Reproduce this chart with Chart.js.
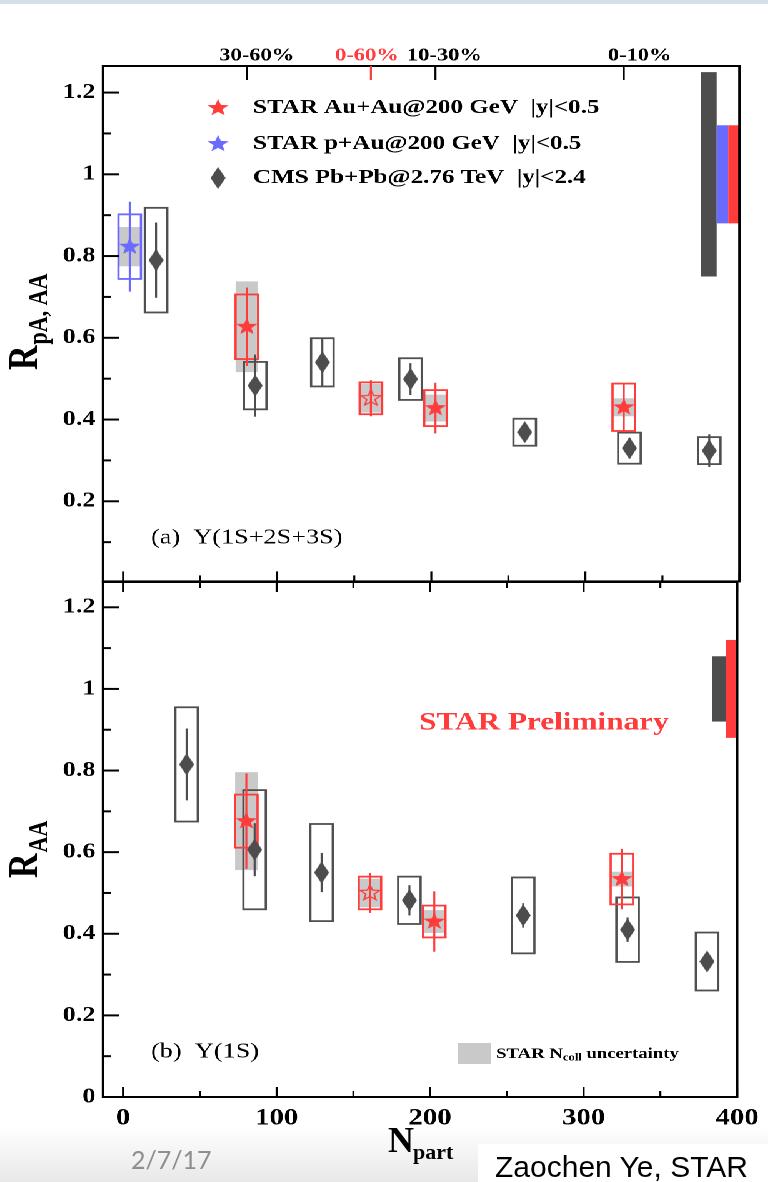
<!DOCTYPE html>
<html>
<head>
<meta charset="utf-8">
<title>Upsilon suppression vs Npart</title>
<script src="https://cdn.jsdelivr.net/npm/chart.js@4.4.1/dist/chart.umd.min.js"></script>
<style>
  html, body { margin: 0; padding: 0; background: #fff; }
  body { position: relative; width: 768px; height: 1182px; overflow: hidden; }
  #topStrip { position: absolute; left: 0; top: 0; width: 768px; height: 4px; background: #d5dfeb; }
  #foot { position: absolute; left: 0; top: 1126px; width: 768px; height: 56px; background: linear-gradient(#ffffff, #e8e8e8); }
  #authorBox { position: absolute; left: 478px; top: 1144px; width: 290px; height: 38px; background: #fff; }
  /* the ROOT figure is shown 1.25x wider than tall */
  #plots { position: absolute; left: 0; top: 0; width: 615px; height: 1182px; transform: scaleX(1.25); transform-origin: 0 0; }
  #plots canvas { position: absolute; left: 0; }
  #pa { top: 0; }
  #pb { top: 540px; }
  .slide { position: absolute; white-space: nowrap; }
  #date { left: 131px; top: 1147px; font: 25px/25px Lato, "Open Sans", sans-serif; color: #8e8e8e; }
  #author { left: 495px; top: 1152px; font: 30px/30px "Liberation Sans", Arial, sans-serif; color: #000; }
  #npN { left: 388px; top: 1122px; font: bold 36px/36px "Liberation Serif", serif; color: #000; }
  #npSub { left: 413px; top: 1141px; font: bold 22px/22px "Liberation Serif", serif; color: #000; }
</style>
</head>
<body>
<div id="topStrip"></div>
<div id="foot"></div>
<div id="authorBox"></div>
<div id="plots">
  <canvas id="pa" width="615" height="600"></canvas>
  <canvas id="pb" width="615" height="642"></canvas>
</div>
<div class="slide" id="date">2/7/17</div>
<div class="slide" id="npN">N</div>
<div class="slide" id="npSub">part</div>
<div class="slide" id="author">Zaochen Ye, STAR</div>

<script>
// ---- data -------------------------------------------------------------

// STAR Au+Au centrality classes and their Npart
const starClasses = ['30-60%', '0-60%', '10-30%', '0-10%'];
const starNpart = [80.3, 160.8, 202.7, 324.9];

// (a) Y(1S+2S+3S)
const starRaaAll = [0.627, 0.452, 0.428, 0.430];
const starStatAll = [0.096, 0.044, 0.062, 0.058];
const starSysAll = [0.079, 0.039, 0.044, 0.058];
const starNcollAll = [0.111, 0.035, 0.033, 0.022];

const pAuNpart = [4.3];
const pAuRpA = [0.823];
const pAuStat = [0.110];
const pAuSys = [0.079];
const pAuNcoll = [0.048];

const cmsNpartAll = [21.4, 85.7, 129.3, 186.5, 260.6, 328.6, 380.4];
const cmsRaaAll = [0.790, 0.483, 0.540, 0.499, 0.369, 0.330, 0.324];
const cmsStatAll = [0.092, 0.076, 0.059, 0.039, 0.020, 0.025, 0.040];
const cmsSysAll = [0.128, 0.058, 0.059, 0.051, 0.033, 0.038, 0.033];

// (b) Y(1S)
const starRaa1S = [0.676, 0.500, 0.430, 0.534];
const starStat1S = [0.117, 0.049, 0.074, 0.074];
const starSys1S = [0.065, 0.040, 0.039, 0.062];
const starNcoll1S = [0.120, 0.035, 0.028, 0.018];

const cmsNpart1S = [41.4, 85.7, 129.3, 186.5, 260.6, 328.6, 380.4];
const cmsRaa1S = [0.815, 0.606, 0.550, 0.482, 0.445, 0.410, 0.332];
const cmsStat1S = [0.088, 0.065, 0.048, 0.037, 0.030, 0.030, 0.020];
const cmsSys1S = [0.140, 0.146, 0.119, 0.058, 0.093, 0.079, 0.071];

// global (normalisation) uncertainties around unity
const globalAll = [0.25, 0.12, 0.12];   // CMS, p+Au, Au+Au
const global1S = [0.08, 0.12];          // CMS, Au+Au

// axis ticks
const xTicks = [0, 50, 100, 150, 200, 250, 300, 350, 400];
const yTicks = [0, 0.1, 0.2, 0.3, 0.4, 0.5, 0.6, 0.7, 0.8, 0.9, 1.0, 1.1, 1.2];

// ---- style ------------------------------------------------------------

const K = 1.25;                 // horizontal stretch of #plots
const SERIF = '"Liberation Serif", "Times New Roman", serif';
const RED = '#ff3c3c', BLUE = '#6a6aff', DARK = '#4d4d4d', BOXGRAY = '#505050', BAND = '#c9c9c9';
const BOX_HALF = 7.3;           // half width of sys boxes (Npart units)

Chart.defaults.font.family = SERIF;

// marker images (drawn at 4x, shown at w x h)
function sprite(w, h, paint) {
  const s = 4, c = document.createElement('canvas');
  c.width = Math.round(w * s); c.height = Math.round(h * s);
  const g = c.getContext('2d');
  g.scale(s, s);
  paint(g, w, h);
  const img = new Image();
  img.src = c.toDataURL();
  img.width = w; img.height = h;
  return img;
}
function starPath(g, cx, cy, R, r) {
  g.beginPath();
  for (let i = 0; i < 10; i++) {
    const a = -Math.PI / 2 + i * Math.PI / 5, rr = i % 2 ? r : R;
    g.lineTo(cx + rr * Math.cos(a), cy + rr * Math.sin(a));
  }
  g.closePath();
}
const starRed = sprite(19, 19, (g, w, h) => { starPath(g, w / 2, h / 2, 9.0, 3.8); g.fillStyle = RED; g.fill(); });
const starOpen = sprite(19, 19, (g, w, h) => { starPath(g, w / 2, h / 2, 8.2, 3.5); g.strokeStyle = RED; g.lineWidth = 1.2; g.stroke(); });
const starBlue = sprite(19, 19, (g, w, h) => { starPath(g, w / 2, h / 2, 9.0, 3.8); g.fillStyle = BLUE; g.fill(); });
const diamond = sprite(12, 22, (g, w, h) => {
  g.beginPath(); g.moveTo(w / 2, 0); g.lineTo(w, h / 2); g.lineTo(w / 2, h); g.lineTo(0, h / 2); g.closePath();
  g.fillStyle = DARK; g.fill();
});

const isMajorY = v => Math.round(v * 10) % 2 === 0;
const fmtY = v => String(Number(v.toFixed(1)));

function line(ctx, x1, y1, x2, y2) {
  ctx.beginPath(); ctx.moveTo(x1, y1); ctx.lineTo(x2, y2); ctx.stroke();
}
function label(ctx, str, x, y, font, color, align) {
  ctx.font = font; ctx.fillStyle = color || '#000';
  ctx.textAlign = align || 'left'; ctx.textBaseline = 'middle';
  ctx.fillText(str, x, y);
}
// rotated axis title with a subscript
function yTitle(ctx, main, sub, xBase, yStart) {
  ctx.save();
  ctx.translate(xBase, yStart);
  ctx.rotate(-Math.PI / 2);
  ctx.fillStyle = '#000'; ctx.textAlign = 'left'; ctx.textBaseline = 'alphabetic';
  ctx.font = 'bold 34px ' + SERIF;
  ctx.fillText(main, 0, 0);
  const w = ctx.measureText(main).width;
  ctx.font = 'bold 22px ' + SERIF;
  ctx.fillText(sub, w + 1, 8);
  ctx.restore();
}

// error boxes, bars, frame and annotations
const decor = {
  id: 'decor',
  beforeDatasetsDraw(chart, args, o) {
    const { ctx } = chart, sx = chart.scales.x, sy = chart.scales.y;
    const px = v => sx.getPixelForValue(v), py = v => sy.getPixelForValue(v);
    const sets = chart.data.datasets;
    ctx.save();
    o.globals.forEach((g, i) => {
      const [from, to] = o.globalSlots[i];
      ctx.fillStyle = o.globalColors[i];
      ctx.fillRect(px(from), py(1 + g), px(to) - px(from), py(1 - g) - py(1 + g));
    });
    sets.forEach(ds => {
      if (!ds.ncoll) return;
      ctx.fillStyle = BAND;
      ds.data.forEach((p, j) => {
        const t = py(p.y + ds.ncoll[j]), b = py(p.y - ds.ncoll[j]);
        ctx.fillRect(px(p.x - BOX_HALF), t, px(p.x + BOX_HALF) - px(p.x - BOX_HALF), b - t);
      });
    });
    ctx.lineWidth = 1.8;
    sets.forEach(ds => {
      ctx.strokeStyle = ds.boxColor;
      ds.data.forEach((p, j) => {
        const t = py(p.y + ds.sys[j]), b = py(p.y - ds.sys[j]);
        ctx.strokeRect(px(p.x - BOX_HALF), t, px(p.x + BOX_HALF) - px(p.x - BOX_HALF), b - t);
      });
    });
    ctx.lineWidth = 1.6;
    sets.forEach((ds, i) => {
      const meta = chart.getDatasetMeta(i);
      ctx.strokeStyle = ds.barColor;
      ds.data.forEach((p, j) => {
        const xx = meta.data[j].x;
        line(ctx, xx, py(p.y + ds.stat[j]), xx, py(p.y - ds.stat[j]));
      });
    });
    ctx.restore();
  },
  afterDatasetsDraw(chart, args, o) {
    const { ctx, chartArea: a } = chart, sx = chart.scales.x, sy = chart.scales.y;
    const Y = v => v - o.dy;
    ctx.save();
    ctx.strokeStyle = '#000';
    ctx.lineWidth = 2;
    ctx.strokeRect(a.left, a.top, a.right - a.left, a.bottom - a.top);

    yTicks.forEach(v => {
      if (v < sy.min || v > sy.max) return;
      const yy = sy.getPixelForValue(v);
      line(ctx, a.left, yy, a.left + (isMajorY(v) ? 12.8 : 6.4), yy);
    });
    ctx.lineWidth = 1.6;
    xTicks.forEach(v => {
      const xx = sx.getPixelForValue(v), len = v % 100 === 0 ? 10 : 6;
      line(ctx, xx, a.bottom, xx, a.bottom - len);
      if (o.panel === 'b') line(ctx, xx, a.top, xx, a.top + len);
    });

    if (o.panel === 'a') {
      // centrality of the STAR points along the top edge
      const shift = [10, -4, 9, 16];
      starNpart.forEach((n, i) => {
        const xx = sx.getPixelForValue(n), col = starClasses[i] === '0-60%' ? RED : '#000';
        ctx.strokeStyle = col;
        line(ctx, xx, a.top, xx, a.top + 14);
        label(ctx, starClasses[i], xx + shift[i] / K, 56, 'bold 18px ' + SERIF, col, 'center');
      });
      // legend
      const rows = [[starRed, 'STAR Au+Au@200 GeV  |y|<0.5'],
                    [starBlue, 'STAR p+Au@200 GeV  |y|<0.5'],
                    [diamond, 'CMS Pb+Pb@2.76 TeV  |y|<2.4']];
      [108, 144, 178].forEach((yy, i) => {
        const img = rows[i][0];
        ctx.drawImage(img, 174.4 - img.width / 2, yy - img.height / 2, img.width, img.height);
        label(ctx, rows[i][1], 202.4, yy, 'bold 20px ' + SERIF);
      });
      label(ctx, '(a)  \u03A5(1S+2S+3S)', 120.8, 538, '21px ' + SERIF);
      yTitle(ctx, 'R', 'pA, AA', 29.6, 370);
    } else {
      label(ctx, 'STAR Preliminary', 335.2, Y(723), 'bold 25px ' + SERIF, RED);
      label(ctx, '(b)  \u03A5(1S)', 120.8, Y(1052), '21px ' + SERIF);
      ctx.fillStyle = BAND;
      ctx.fillRect(366.4, Y(1043), 26.4, 21);
      label(ctx, 'STAR N', 396.8, Y(1054), 'bold 15px ' + SERIF);
      const w1 = ctx.measureText('STAR N').width;
      label(ctx, 'coll', 396.8 + w1, Y(1058), 'bold 10px ' + SERIF);
      const w2 = ctx.measureText('coll').width;
      label(ctx, ' uncertainty', 396.8 + w1 + w2, Y(1054), 'bold 15px ' + SERIF);
      yTitle(ctx, 'R', 'AA', 29.6, Y(878));
    }
    ctx.restore();
  }
};

function points(xs, ys) {
  return xs.map((x, i) => ({ x: x, y: ys[i] }));
}

function buildPanel(id, datasets, cfg) {
  return new Chart(document.getElementById(id), {
    type: 'scatter',
    data: { datasets: datasets },
    options: {
      responsive: false,
      animation: false,
      devicePixelRatio: 2,
      layout: { padding: cfg.padding },
      plugins: {
        legend: { display: false },
        tooltip: { enabled: false },
        decor: cfg.decor
      },
      scales: {
        x: {
          type: 'linear', min: -13, max: 400,
          display: cfg.showX,
          afterBuildTicks: s => { s.ticks = xTicks.map(v => ({ value: v })); },
          afterFit: s => { if (cfg.showX) s.height = 40; },
          grid: { display: false, drawTicks: false },
          border: { display: false },
          ticks: {
            padding: 8, color: '#000', maxRotation: 0, autoSkip: false,
            font: { family: SERIF, weight: 'bold', size: 23 },
            callback: v => (v % 100 === 0 ? String(v) : '')
          }
        },
        y: {
          type: 'linear', min: cfg.yMin, max: cfg.yMax,
          afterBuildTicks: s => { s.ticks = yTicks.filter(v => v >= cfg.yMin).map(v => ({ value: v })); },
          afterFit: s => { s.width = 82.4; },
          grid: { display: false, drawTicks: false },
          border: { display: false },
          ticks: {
            padding: 6, color: '#000', autoSkip: false,
            font: { family: SERIF, weight: 'bold', size: 21 },
            callback: v => (isMajorY(v) && (v > 0.05 || cfg.zeroLabel) ? fmtY(v) : '')
          }
        }
      }
    },
    plugins: [decor]
  });
}

function build() {
  buildPanel('pa', [
    { label: 'CMS Pb+Pb@2.76 TeV  |y|<2.4', data: points(cmsNpartAll, cmsRaaAll),
      stat: cmsStatAll, sys: cmsSysAll, boxColor: BOXGRAY, barColor: DARK,
      pointStyle: diamond, pointRadius: 5 },
    { label: 'STAR p+Au@200 GeV  |y|<0.5', data: points(pAuNpart, pAuRpA),
      stat: pAuStat, sys: pAuSys, ncoll: pAuNcoll, boxColor: BLUE, barColor: BLUE,
      pointStyle: starBlue, pointRadius: 5 },
    { label: 'STAR Au+Au@200 GeV  |y|<0.5', data: points(starNpart, starRaaAll),
      stat: starStatAll, sys: starSysAll, ncoll: starNcollAll, boxColor: RED, barColor: RED,
      pointStyle: c => (starClasses[c.dataIndex] === '0-60%' ? starOpen : starRed), pointRadius: 5 }
  ], {
    padding: { top: 66, right: 23.4, bottom: 18, left: 0 },
    showX: false, yMin: 0.004, yMax: 1.265, zeroLabel: false,
    decor: { panel: 'a', dy: 0, globals: globalAll,
             globalSlots: [[375, 385.2], [385.2, 392.7], [392.7, 400]],
             globalColors: [DARK, BLUE, RED] }
  });

  buildPanel('pb', [
    { label: 'CMS Pb+Pb@2.76 TeV  |y|<2.4', data: points(cmsNpart1S, cmsRaa1S),
      stat: cmsStat1S, sys: cmsSys1S, boxColor: BOXGRAY, barColor: DARK,
      pointStyle: diamond, pointRadius: 5 },
    { label: 'STAR Au+Au@200 GeV  |y|<0.5', data: points(starNpart, starRaa1S),
      stat: starStat1S, sys: starSys1S, ncoll: starNcoll1S, boxColor: RED, barColor: RED,
      pointStyle: c => (starClasses[c.dataIndex] === '0-60%' ? starOpen : starRed), pointRadius: 5 }
  ], {
    padding: { top: 42, right: 23.4, bottom: 45, left: 0 },
    showX: true, yMin: 0, yMax: 1.262, zeroLabel: true,
    decor: { panel: 'b', dy: 540, globals: global1S,
             globalSlots: [[383.7, 392.7], [392.7, 400]],
             globalColors: [DARK, RED] }
  });
}

Promise.all([starRed, starOpen, starBlue, diamond].map(s => s.decode())).then(build);
</script>
</body>
</html>
